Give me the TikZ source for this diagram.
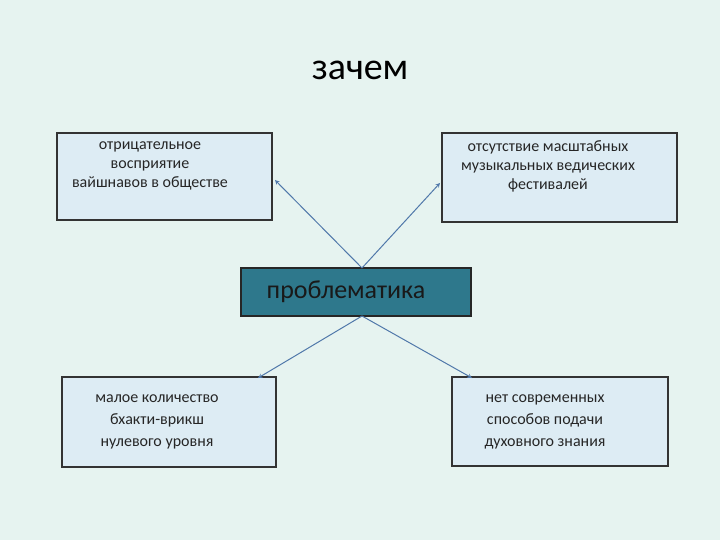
\documentclass[tikz,border=0pt]{standalone}
\usepackage{fontspec}
\setmainfont{Carlito}
\definecolor{bg}{RGB}{230,243,240}
\definecolor{boxfill}{RGB}{221,236,244}
\definecolor{teal1}{RGB}{46,120,140}
\definecolor{arr}{RGB}{80,120,170}
\begin{document}
\begin{tikzpicture}[x=1pt,y=-1pt,
  box/.style={draw=black!80,line width=1.2pt,fill=boxfill},
  txt/.style={font=\fontsize{16}{19}\selectfont,align=center,text=black!85},
  con/.style={draw=arr,line width=1pt,-stealth}]
\fill[bg] (0,0) rectangle (720,540);
\node (title) at (360,70) {\fontsize{38}{42}\selectfont зачем};
\draw[box] (57,133) rectangle (272,220);
\draw[box] (442,133) rectangle (677,222);
\draw[box] (62,377) rectangle (276,467);
\draw[box] (452,377) rectangle (668,466);
\node[txt] (tl) at (150,166) {отрицательное\\восприятие\\вайшнавов в обществе};
\node[txt] (tr) at (548,166) {отсутствие масштабных\\музыкальных ведических\\фестивалей};
\node[txt,font=\fontsize{16}{22}\selectfont] (bl) at (157,422) {малое количество\\бхакти-врикш\\нулевого уровня};
\node[txt,font=\fontsize{16}{22}\selectfont] (br) at (545,422) {нет современных\\способов подачи\\духовного знания};
\node[draw=black!85,line width=1.2pt,fill=teal1,minimum width=230pt,minimum height=48pt,font=\fontsize{26}{30}\selectfont,text=black!90,inner sep=0pt] (c) at (356,292) {\hspace*{-20pt}проблематика};
\coordinate (a1) at (275,180);
\coordinate (a2) at (440,183);
\coordinate (a3) at (258,378);
\coordinate (a4) at (472,378);
\coordinate (ct) at (362,268);
\coordinate (cb) at (362,316);
\draw[con] (ct) -- (a1);
\draw[con] (ct) -- (a2);
\draw[con] (cb) -- (a3);
\draw[con] (cb) -- (a4);
\end{tikzpicture}
\end{document}
